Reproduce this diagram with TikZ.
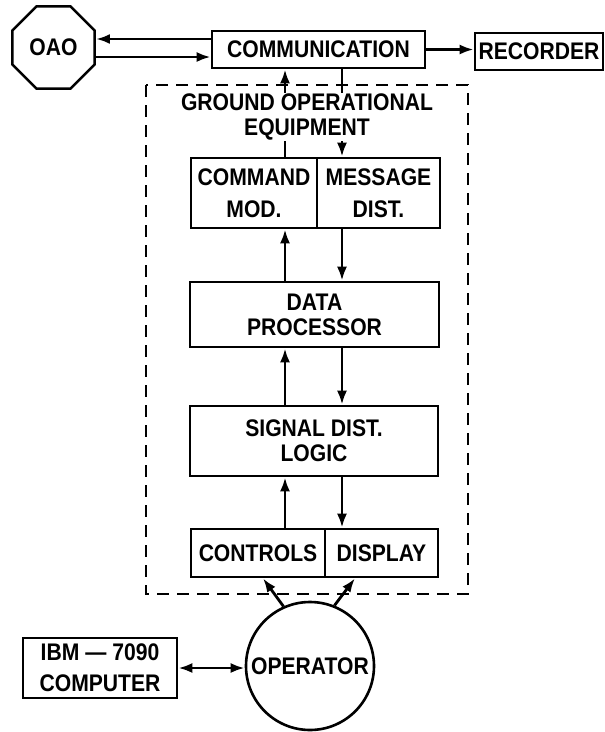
\documentclass[tikz,border=0pt]{standalone}
\usepackage{fontspec}
\setmainfont[FakeStretch=0.88]{Liberation Sans}
\usetikzlibrary{arrows.meta,positioning,shapes.geometric}

\tikzset{
  blk/.style={draw, line width=2.6pt, inner sep=0pt, align=center,
    font=\bfseries\fontsize{24}{25}\selectfont},
  lbl/.style={inner sep=1pt, align=center, fill=white,
    font=\bfseries\fontsize{24}{25}\selectfont},
  arr/.style={line width=2.8pt, -{Latex[length=14pt,width=10pt]}},
  arrboth/.style={line width=2.8pt, {Latex[length=14pt,width=10pt]}-{Latex[length=14pt,width=10pt]}},
  dashbox/.style={line width=2.6pt, dash pattern=on 12pt off 8pt},
}

\begin{document}
\begin{tikzpicture}[x=1pt,y=-1pt]
  \useasboundingbox (0,0) rectangle (605,732);
  \def\xl{285}
  \def\xr{342}
  \coordinate (xl) at (\xl,0);
  \coordinate (xr) at (\xr,0);

  % Top row
  \node[blk, regular polygon, regular polygon sides=8, minimum size=89pt] (oao) at (53.5,47.5) {OAO};
  \node[blk, minimum width=213pt, minimum height=37pt] (comm) at (318.5,49.5) {COMMUNICATION};
  \node[blk, minimum width=128pt, minimum height=37pt] (rec) at (539,51.5) {RECORDER};

  % Ground operational equipment (dashed frame)
  \draw[dashbox] (146,85) rectangle (468,594);
  \node[blk, minimum width=126pt, minimum height=70pt] (cmd) at (254,193) {COMMAND\\[7pt]MOD.};
  \node[blk, minimum width=123pt, minimum height=70pt, right=-2.6pt of cmd] (msg) {MESSAGE\\[7pt]DIST.};
  \node[blk, minimum width=249pt, minimum height=65pt] (dp) at (314.5,314.5) {DATA\\PROCESSOR};
  \node[blk, minimum width=248pt, minimum height=70pt] (sdl) at (314,441) {SIGNAL DIST.\\LOGIC};
  \node[blk, minimum width=134pt, minimum height=48pt] (ctrl) at (258,553) {CONTROLS};
  \node[blk, minimum width=113pt, minimum height=48pt, right=-2.6pt of ctrl] (disp) {DISPLAY};

  % Bottom row
  \node[blk, minimum width=154pt, minimum height=60pt] (ibm) at (100,668) {IBM — 7090\\[6pt]COMPUTER};
  \node[blk, circle, minimum size=128pt] (op) at (310,666) {OPERATOR};

  % Links to the satellite and recorder
  \coordinate (hi) at ([yshift=10.5pt]comm.west);
  \coordinate (lo) at ([yshift=-7.5pt]comm.west);
  \draw[arr] (hi) -- (hi -| oao.east);
  \draw[arr] (lo -| oao.east) -- (lo);
  \draw[arr] (comm.east) -- (comm.east -| rec.west);

  % Up and down the chain
  \draw[arr] (cmd.north -| xl) -- (comm.south -| xl);
  \draw[arr] (comm.south -| xr) -- (msg.north -| xr);
  \draw[arr] (dp.north -| xl) -- (cmd.south -| xl);
  \draw[arr] (msg.south -| xr) -- (dp.north -| xr);
  \draw[arr] (sdl.north -| xl) -- (dp.south -| xl);
  \draw[arr] (dp.south -| xr) -- (sdl.north -| xr);
  \draw[arr] (ctrl.north -| xl) -- (sdl.south -| xl);
  \draw[arr] (sdl.south -| xr) -- (disp.north -| xr);

  % Operator
  \draw[arr] (op.114) -- ([xshift=5pt]ctrl.south);
  \draw[arr] (op.68) -- ([xshift=-26.5pt]disp.south);
  \draw[arrboth] (ibm.east) -- (ibm.east -| op.west);

  % Frame label (over the lines)
  \node[lbl] (goe) at (307,117) {GROUND OPERATIONAL\\EQUIPMENT};
\end{tikzpicture}
\end{document}
